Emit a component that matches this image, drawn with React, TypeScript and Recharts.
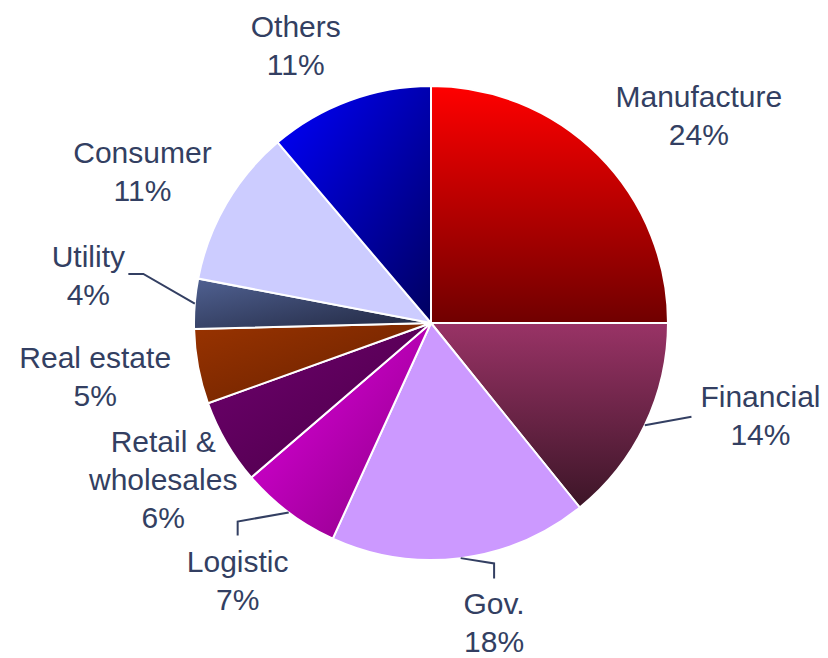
import { PieChart, Pie, Cell } from 'recharts';

const categories: string[] = [
  'Manufacture',
  'Financial',
  'Gov.',
  'Logistic',
  'Retail &\nwholesales',
  'Real estate',
  'Utility',
  'Consumer',
  'Others',
];

// slice sizes (labels are rounded)
const shares: number[] = [25, 14.2, 17.6, 6.9, 5.8, 5.1, 3.4, 10.8, 11.2];

const pctLabels: string[] = ['24%', '14%', '18%', '7%', '6%', '5%', '4%', '11%', '11%'];

// gradient stops per slice
const gradients: { from: string; to: string; dir: 'v' | 'd' }[] = [
  { from: '#ff0000', to: '#700000', dir: 'v' },
  { from: '#993366', to: '#3c1527', dir: 'v' },
  { from: '#cc99ff', to: '#cc99ff', dir: 'v' },
  { from: '#e400e4', to: '#880080', dir: 'd' },
  { from: '#700070', to: '#480044', dir: 'd' },
  { from: '#993300', to: '#662000', dir: 'd' },
  { from: '#506192', to: '#20263e', dir: 'd' },
  { from: '#ccccff', to: '#ccccff', dir: 'v' },
  { from: '#0000ff', to: '#000060', dir: 'd' },
];

// label placement: radius from centre and angle nudge from the slice middle
const labelPlacement: { r: number; da: number }[] = [
  { r: 339, da: -7.2 },
  { r: 342, da: 10 },
  { r: 306, da: 4.7 },
  { r: 322, da: 0 },
  { r: 310, da: 0 },
  { r: 340, da: -1.6 },
  { r: 346, da: -3.3 },
  { r: 326, da: 2.5 },
  { r: 309, da: 5.8 },
];

// leader line points relative to the label centre (edge point is added first)
const leaders: ([number, number][] | null)[] = [
  null,
  [[-69, 2]],
  [[0, -59], [0, -44]],
  [[0, -59], [0, -45]],
  null,
  null,
  [[55, -1], [40, -1]],
  null,
  null,
];

const data = categories.map((name, i) => ({ name, value: shares[i], pct: pctLabels[i] }));

const RADIAN = Math.PI / 180;
const TEXT_COLOR = '#333f62';
const FONT = '"Liberation Sans", Arial, sans-serif';

const renderLabel = (props: any) => {
  const { cx, cy, midAngle, outerRadius } = props;
  const index: number = props.index ?? data.findIndex((d) => d.name === props.name);
  const place = labelPlacement[index];
  const a = (midAngle + place.da) * RADIAN;
  const lx = cx + place.r * Math.cos(-a);
  const ly = cy + place.r * Math.sin(-a);
  const lines = [...categories[index].split('\n'), pctLabels[index]];
  const lineStep = 38;
  const firstBase = ly - ((lines.length - 1) * lineStep - 22) / 2;
  const leader = leaders[index];
  let path = '';
  if (leader) {
    const ex = cx + outerRadius * Math.cos(-midAngle * RADIAN);
    const ey = cy + outerRadius * Math.sin(-midAngle * RADIAN);
    path = `M${ex},${ey}` + leader.map(([dx, dy]) => ` L${lx + dx},${ly + dy}`).join('');
  }
  return (
    <g key={`lbl-${index}`}>
      {leader && <path d={path} stroke={TEXT_COLOR} strokeWidth={2} fill="none" />}
      <text x={lx} y={firstBase} textAnchor="middle" fill={TEXT_COLOR} fontSize={30} fontFamily={FONT}>
        {lines.map((t, k) => (
          <tspan key={k} x={lx} y={firstBase + k * lineStep}>
            {t}
          </tspan>
        ))}
      </text>
    </g>
  );
};

export default function App() {
  return (
    <div style={{ position: 'absolute', left: 0, top: 0, width: 828, height: 658, background: '#fff' }}>
      <PieChart width={828} height={658} margin={{ top: 0, right: 0, bottom: 0, left: 0 }}>
        <defs>
          {gradients.map((g, i) => (
            <linearGradient
              key={i}
              id={`grad-${i}`}
              x1="0"
              y1="0"
              x2={g.dir === 'd' ? '1' : '0'}
              y2="1"
            >
              <stop offset="0%" stopColor={g.from} />
              <stop offset="100%" stopColor={g.to} />
            </linearGradient>
          ))}
        </defs>
        <Pie
          data={data}
          dataKey="value"
          nameKey="name"
          cx={431}
          cy={323}
          outerRadius={237}
          startAngle={90}
          endAngle={-270}
          stroke="#ffffff"
          strokeWidth={2}
          label={renderLabel}
          labelLine={false}
          isAnimationActive={false}
        >
          {data.map((_, i) => (
            <Cell key={i} fill={`url(#grad-${i})`} />
          ))}
        </Pie>
      </PieChart>
    </div>
  );
}
